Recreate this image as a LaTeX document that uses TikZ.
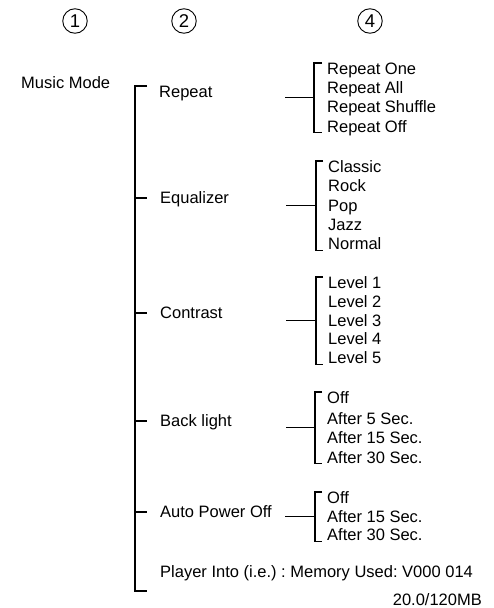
\documentclass[tikz,border=0pt]{standalone}
\usepackage{fontspec}
\setmainfont{Liberation Sans}
\usetikzlibrary{calc}
\frenchspacing

\begin{document}
\begin{tikzpicture}[x=1pt, y=-1pt, font=\fontsize{16.5}{19.8}\selectfont,
  num/.style={draw, circle, line width=0.9pt, minimum size=24.5pt, inner sep=0pt, font=\fontsize{18.5}{18.5}\selectfont},
  lbl/.style={anchor=west, inner sep=0pt, text height=11.8pt, text depth=0pt},
  ln/.style={draw=black, line width=1.2pt}]
\useasboundingbox (0,0) rectangle (494,608);
% column numbers
\node[num] (n1) at (75,21) {1};
\node[num] (n2) at (184,21) {2};
\node[num] (n4) at (370,21) {4};
% first and second level
\node[lbl] (mm) at (21,83) {Music Mode};
\node[lbl] (rep) at (159,92) {Repeat};
\node[lbl] (eq) at (160,198) {Equalizer};
\node[lbl] (con) at (160,313) {Contrast};
\node[lbl] (bl) at (160,421) {Back light};
\node[lbl] (apo) at (160,512) {Auto Power Off};
\node[lbl] (info) at (160,572) {Player Into (i.e.) : Memory Used: V000 014};
\node[lbl, anchor=east] (mem) at (482,600) {20.0/120MB};
% third level
\node[lbl] (r1) at (327,69) {Repeat One};
\node[lbl] (r2) at (327,88) {Repeat All};
\node[lbl] (r3) at (327,107) {Repeat Shuffle};
\node[lbl] (r4) at (327,126.5) {Repeat Off};
\node[lbl] (e1) at (328,167) {Classic};
\node[lbl] (e2) at (328,186) {Rock};
\node[lbl] (e3) at (328,205.5) {Pop};
\node[lbl] (e4) at (328,225) {Jazz};
\node[lbl] (e5) at (328,244) {Normal};
\node[lbl] (c1) at (328,283) {Level 1};
\node[lbl] (c2) at (328,302) {Level 2};
\node[lbl] (c3) at (328,320.5) {Level 3};
\node[lbl] (c4) at (328,339) {Level 4};
\node[lbl] (c5) at (328,358) {Level 5};
\node[lbl] (b1) at (327,398) {Off};
\node[lbl] (b2) at (327,418.5) {After 5 Sec.};
\node[lbl] (b3) at (327,438) {After 15 Sec.};
\node[lbl] (b4) at (327,457.5) {After 30 Sec.};
\node[lbl] (a1) at (327,498) {Off};
\node[lbl] (a2) at (327,516.5) {After 15 Sec.};
\node[lbl] (a3) at (327,535) {After 30 Sec.};
% main tree line
\coordinate (top) at (135,86);
\coordinate (bot) at (135,591);
\draw[ln] ([xshift=12pt]top) -- (top) -- (bot) -- ([xshift=12pt]bot);
\draw[ln] (top |- eq.west) -- ++(12,0);
\draw[ln] (top |- con.west) -- ++(12,0);
\draw[ln] (top |- bl.west) -- ++(12,0);
\draw[ln] (top |- apo.west) -- ++(12,0);
% brackets
\coordinate (repk) at ($(r1.north west)!.5!(r4.south west) + (-13,0)$);
\coordinate (eqk) at ($(e1.north west)!.5!(e5.south west) + (-12,0)$);
\coordinate (conk) at ($(c1.north west)!.5!(c5.south west) + (-12,0)$);
\coordinate (blk) at ($(b1.north west)!.5!(b4.south west) + (-12,0)$);
\coordinate (apok) at ($(a1.north west)!.5!(a3.south west) + (-12,0)$);
\draw[ln] ([xshift=-5pt]r1.north west) -| (repk) |- ([xshift=-5pt]r4.south west); \draw[ln] (repk) -- ++(-29,0);
\draw[ln] ([xshift=-5pt]e1.north west) -| (eqk) |- ([xshift=-5pt]e5.south west); \draw[ln] (eqk) -- ++(-30,0);
\draw[ln] ([xshift=-5pt]c1.north west) -| (conk) |- ([xshift=-5pt]c5.south west); \draw[ln] (conk) -- ++(-30,0);
\draw[ln] ([xshift=-5pt]b1.north west) -| (blk) |- ([xshift=-5pt]b4.south west); \draw[ln] (blk) -- ++(-29,0);
\draw[ln] ([xshift=-5pt]a1.north west) -| (apok) |- ([xshift=-5pt]a3.south west); \draw[ln] (apok) -- ++(-30,0);
\end{tikzpicture}
\end{document}
